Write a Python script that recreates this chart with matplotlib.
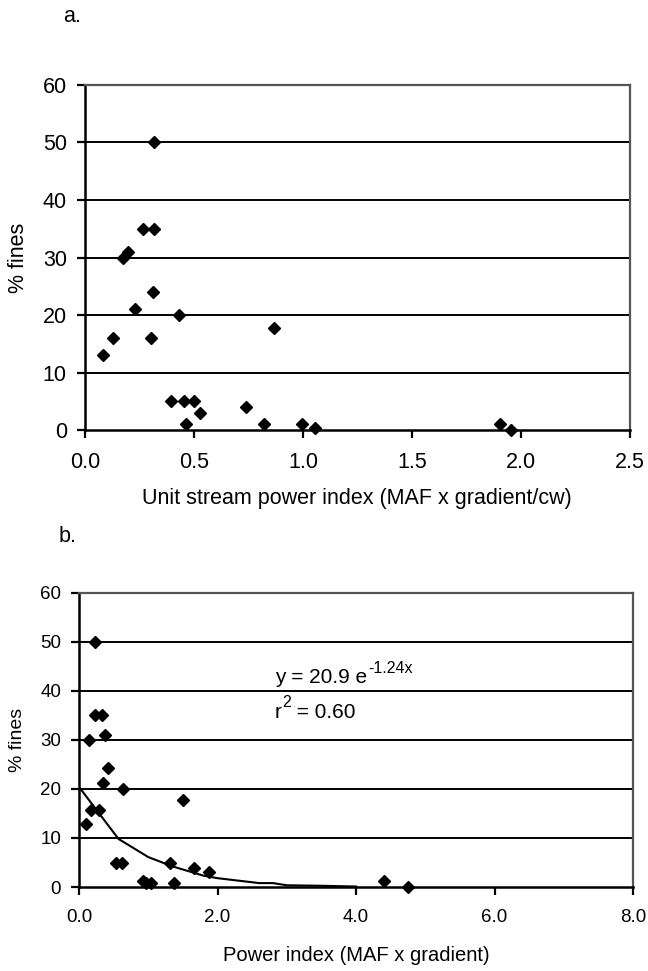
import numpy as np
import matplotlib
matplotlib.use("Agg")
import matplotlib.pyplot as plt

plt.rcParams["font.family"] = ["Liberation Sans", "DejaVu Sans"]

# panel a: unit stream power index vs % fines
a_x = [0.085, 0.13, 0.174, 0.197, 0.231, 0.266, 0.318, 0.315, 0.311, 0.303,
       0.431, 0.395, 0.454, 0.50, 0.466, 0.526, 0.738, 0.823, 0.869, 0.997,
       1.054, 1.903, 1.957]
a_y = [13, 16, 30, 31, 21, 35, 35, 50, 24, 16,
       20, 5, 5, 5, 1, 3, 4, 1, 17.7, 1,
       0.3, 1, 0]

# panel b: power index vs % fines
b_x = [0.231, 0.231, 0.328, 0.149, 0.371, 0.424, 0.352, 0.641, 0.169, 0.294,
       0.101, 0.530, 0.617, 1.499, 0.930, 0.96, 1.036, 1.316, 1.364, 1.653,
       1.870, 4.41, 4.75]
b_y = [50, 35, 35, 30, 31, 24.2, 21.2, 20, 15.8, 15.8,
       12.9, 4.9, 4.9, 17.8, 1.2, 0.9, 0.8, 4.9, 0.8, 3.9,
       3.0, 1.3, 0.1]

# exponential trendline vertices as drawn (y = 20.9 e^-1.24x)
trend_x = [0.0, 0.57, 1.0, 1.35, 1.8, 2.0, 2.6, 2.8, 3.0, 3.5, 4.0]
trend_y = [20.4, 9.8, 6.1, 4.2, 2.3, 1.8, 0.8, 0.8, 0.35, 0.25, 0.1]

y_ticks = [0, 10, 20, 30, 40, 50, 60]


def style_axes(ax, xticks, xfmt, tick_size):
    ax.set_ylim(0, 60)
    ax.set_yticks(y_ticks)
    ax.set_xticks(xticks)
    ax.set_xticklabels([xfmt.format(t) for t in xticks])
    ax.set_xlim(xticks[0], xticks[-1])
    for y in y_ticks[1:-1]:
        ax.axhline(y, color="black", lw=1.4, zorder=1)
    for side in ["top", "right"]:
        ax.spines[side].set_color("#555555")
        ax.spines[side].set_linewidth(1.6)
    for side in ["left", "bottom"]:
        ax.spines[side].set_color("black")
        ax.spines[side].set_linewidth(1.8)
    ax.tick_params(direction="out", length=6, width=1.6, labelsize=tick_size)
    ax.tick_params(axis="x", pad=10)
    ax.tick_params(axis="y", pad=7)


def text_after(ax, prev, y, s, size, rise=0.0, dx=0.0):
    # place text right after another text artist, baseline shifted by rise (pt)
    return ax.annotate(s, xy=(1, y), xycoords=(prev, "data"),
                       xytext=(dx, rise), textcoords="offset points",
                       fontsize=size, ha="left", va="baseline",
                       annotation_clip=False)


fig = plt.figure(figsize=(6.48, 9.71), dpi=100)

ax1 = fig.add_axes([0.131, 0.557, 0.841, 0.3555])
ax1.plot(a_x, a_y, "D", color="black", ms=6.5, ls="none", clip_on=False, zorder=5)
style_axes(ax1, [0.0, 0.5, 1.0, 1.5, 2.0, 2.5], "{:.1f}", 15.5)
ax1.set_ylabel("% fines", fontsize=15.5, labelpad=10)
ax1.set_xlabel("Unit stream power index (MAF x gradient/cw)", fontsize=15.5,
               labelpad=10.5)
fig.text(0.097, 0.977, "a.", fontsize=15.5, ha="left", va="baseline")

ax2 = fig.add_axes([0.122, 0.0865, 0.855, 0.303])
ax2.plot(trend_x, trend_y, color="black", lw=1.5, zorder=4)
ax2.plot(b_x, b_y, "D", color="black", ms=6.5, ls="none", clip_on=False, zorder=5)
style_axes(ax2, [0.0, 2.0, 4.0, 6.0, 8.0], "{:.1f}", 13.5)
ax2.set_ylabel("% fines", fontsize=14, labelpad=10)
ax2.set_xlabel("Power index (MAF x gradient)", fontsize=14.5, labelpad=14)

eq_x, eq_y, r2_y = 2.83, 41.6, 34.4
t_eq = ax2.text(eq_x, eq_y, "y = 20.9 e", fontsize=15, ha="left", va="baseline")
text_after(ax2, t_eq, eq_y, "-1.24x", 11.5, rise=7.5, dx=0.5)
t_r = ax2.text(eq_x, r2_y, "r", fontsize=15, ha="left", va="baseline")
t_2 = text_after(ax2, t_r, r2_y, "2", 11.5, rise=8.5, dx=0.0)
text_after(ax2, t_2, r2_y, " = 0.60", 15, rise=0.0, dx=0.0)
fig.text(0.090, 0.442, "b.", fontsize=15.5, ha="left", va="baseline")

fig.savefig("out.png", dpi=100)
